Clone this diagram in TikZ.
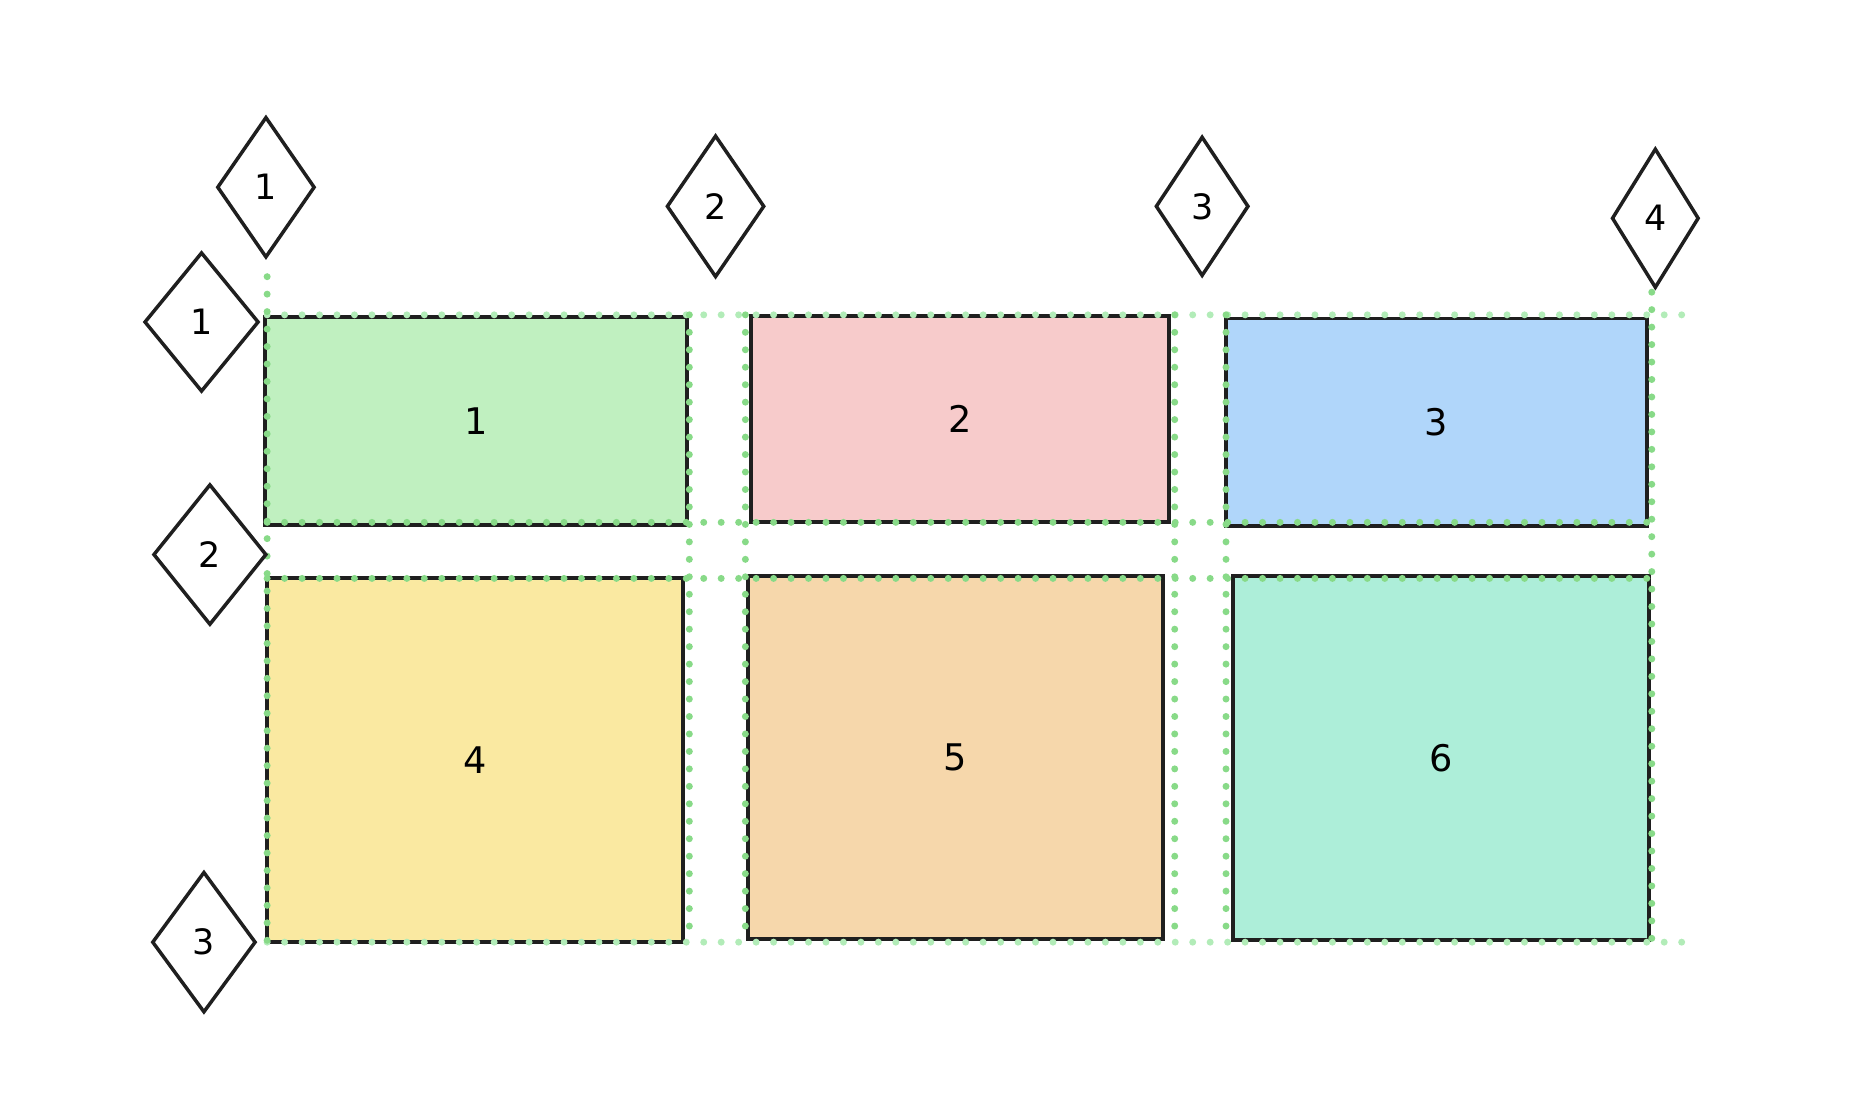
\documentclass[tikz,border=0pt]{standalone}
\usepackage{fontspec}
\setmainfont{DejaVu Sans}
\usetikzlibrary{shapes.geometric}
\definecolor{cellgreen}{RGB}{192,240,192}
\definecolor{cellpink}{RGB}{247,203,203}
\definecolor{cellblue}{RGB}{176,214,250}
\definecolor{cellyellow}{RGB}{250,233,161}
\definecolor{cellorange}{RGB}{246,215,171}
\definecolor{cellteal}{RGB}{173,238,217}
\definecolor{guidegreen}{RGB}{136,218,136}
\definecolor{guidelight}{RGB}{178,236,184}

\begin{document}
\begin{tikzpicture}[x=0.024cm,y=-0.024cm,
  cell/.style={draw=black!88,line width=2.2pt,inner sep=0pt,font=\fontsize{21}{25}\selectfont},
  guide/.style={guidegreen,line width=4pt,line cap=round,dash pattern=on 0pt off 10pt},
  guidefaint/.style={guide,guidelight},
  gridtag/.style={diamond,draw=black!88,line width=2pt,inner sep=0pt,font=\fontsize{20}{24}\selectfont}]
  \useasboundingbox (0,0) rectangle (1568,924);
  % cells
  \node[cell,fill=cellgreen,minimum width=354*0.024cm,minimum height=174*0.024cm] (c1) at (399,353) {1};
  \node[cell,fill=cellpink,minimum width=350*0.024cm,minimum height=173*0.024cm] (c2) at (805,351.5) {2};
  \node[cell,fill=cellblue,minimum width=353*0.024cm,minimum height=174*0.024cm] (c3) at (1204.5,354) {3};
  \node[cell,fill=cellyellow,minimum width=349*0.024cm,minimum height=305*0.024cm] (c4) at (398.5,637.5) {4};
  \node[cell,fill=cellorange,minimum width=348*0.024cm,minimum height=304*0.024cm] (c5) at (801,635) {5};
  \node[cell,fill=cellteal,minimum width=349*0.024cm,minimum height=305*0.024cm] (c6) at (1208.5,635.5) {6};
  % grid lines
  \draw[guidefaint] (224,264) -- (1412,264);
  \draw[guide] (224,438) -- (1385,438);
  \draw[guide] (224,485) -- (1385,485);
  \draw[guidefaint] (224,790) -- (1412,790);
  \draw[guide] (224,232) -- (224,790);
  \draw[guide] (578,264) -- (578,790);
  \draw[guide] (625,264) -- (625,790);
  \draw[guide] (985,264) -- (985,790);
  \draw[guide] (1028,264) -- (1028,790);
  \draw[guide] (1385,245) -- (1385,795);
  % column tags
  \node[gridtag,minimum width=82*0.024cm,minimum height=118*0.024cm] (col1) at (223,157) {1};
  \node[gridtag,minimum width=82*0.024cm,minimum height=119*0.024cm] (col2) at (600,173) {2};
  \node[gridtag,minimum width=78*0.024cm,minimum height=117*0.024cm] (col3) at (1008,173) {3};
  \node[gridtag,minimum width=73*0.024cm,minimum height=117*0.024cm] (col4) at (1388,183) {4};
  % row tags
  \node[gridtag,minimum width=96*0.024cm,minimum height=117*0.024cm] (row1) at (169,270) {1};
  \node[gridtag,minimum width=95*0.024cm,minimum height=118*0.024cm] (row2) at (176,465) {2};
  \node[gridtag,minimum width=87*0.024cm,minimum height=118*0.024cm] (row3) at (171,790) {3};
\end{tikzpicture}
\end{document}
